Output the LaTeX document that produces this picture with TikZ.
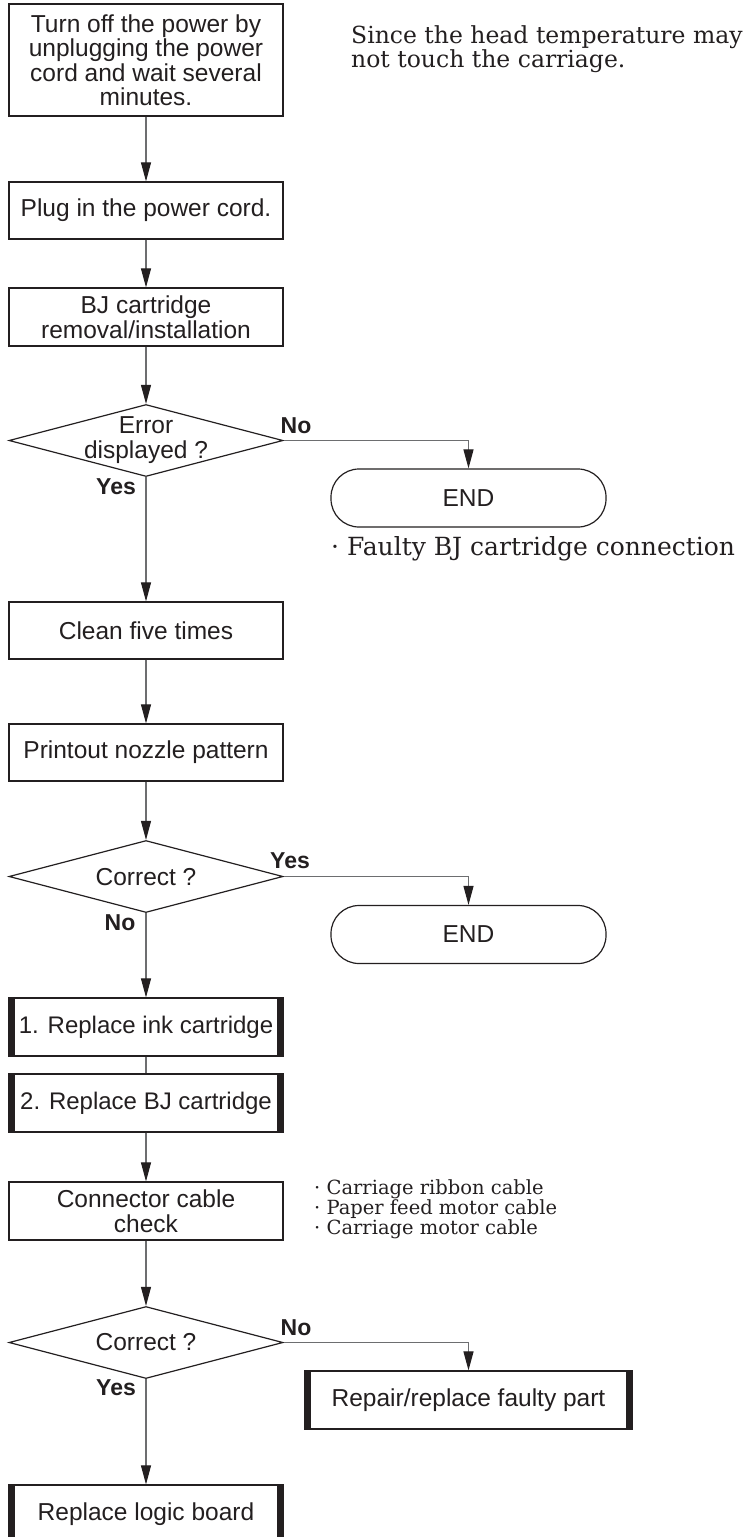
\documentclass[tikz,border=0pt]{standalone}
\usepackage{fontspec}
\setmainfont{DejaVu Serif}
\setsansfont{Liberation Sans}
\usetikzlibrary{arrows.meta,shapes.geometric}
\definecolor{ink}{HTML}{231F20}
\definecolor{wire}{HTML}{6D6E70}
\tikzset{
  base/.style={draw=ink, line width=1.2pt, text=ink, align=center, inner sep=0pt,
    font=\sffamily\fontsize{24.5}{24.5}\selectfont},
  procbox/.style={base, rectangle, minimum width=274pt, minimum height=57pt},
  barbox/.style={procbox, font=\sffamily\fontsize{24}{24}\selectfont, path picture={
      \fill[ink] (path picture bounding box.north west) rectangle ([xshift=6pt]path picture bounding box.south west);
      \fill[ink] (path picture bounding box.north east) rectangle ([xshift=-6pt]path picture bounding box.south east);}},
  decision/.style={base, diamond, minimum width=274pt, minimum height=72pt},
  dlabel/.style={text=ink, align=center, inner sep=0pt, font=\sffamily\fontsize{24.5}{25}\selectfont},
  terminal/.style={base, rectangle, rounded corners=28pt, minimum width=275pt, minimum height=58pt},
  flow/.style={draw=wire, line width=1.1pt, -{Triangle[length=19pt,width=10pt,color=ink]}},
  plain/.style={draw=wire, line width=1.1pt},
  yn/.style={text=ink, inner sep=0pt, font=\sffamily\bfseries\fontsize{23}{23}\selectfont},
  note/.style={text=ink, anchor=west, align=left, inner sep=0pt},
}
\begin{document}
\begin{tikzpicture}[x=1pt,y=-1pt]
\useasboundingbox (0,0) rectangle (748,1537);
\clip (0,0) rectangle (748,1537);
\fill[white] (0,0) rectangle (748,1537);

% nodes
\node[procbox, minimum height=112pt] (b1) at (146,60) {Turn off the power by\\unplugging the power\\cord and wait several\\minutes.};
\node[note, font=\fontsize{23.5}{22}\selectfont] (warn) at (351,49) {Since the head temperature may\\not touch the carriage.};
\node[procbox] (b2) at (146,210.5) {Plug in the power cord.};
\node[procbox, minimum height=58pt] (b3) at (146,317) {BJ cartridge\\removal/installation};
\node[decision] (d1) at (146,440.5) {};
\node[dlabel] (d1t) at (146,440) {Error\\displayed ?};
\node[yn] (d1no) at (296,426) {No};
\node[yn] (d1yes) at (116,487) {Yes};
\node[terminal] (end1) at (468.5,498) {END};
\node[note, font=\fontsize{25}{25}\selectfont] (faulty) at (331,549) {· Faulty BJ cartridge connection};
\node[procbox] (clean) at (146,630.5) {Clean five times};
\node[procbox] (print) at (146,752.5) {Printout nozzle pattern};
\node[decision] (d2) at (146,876.5) {};
\node[dlabel] (d2t) at (146,877) {Correct ?};
\node[yn] (d2yes) at (290,861) {Yes};
\node[yn] (d2no) at (120,923) {No};
\node[terminal] (end2) at (468.5,934.5) {END};
\node[barbox, minimum height=58pt] (ink) at (146,1027) {1. Replace ink cartridge};
\node[barbox, minimum height=58pt] (bj) at (146,1103) {2. Replace BJ cartridge};
\node[procbox, minimum height=58pt] (conn) at (146,1211) {Connector cable\\check};
\node[note, font=\fontsize{19.5}{20}\selectfont] (cables) at (314,1209) {· Carriage ribbon cable\\· Paper feed motor cable\\· Carriage motor cable};
\node[decision] (d3) at (146,1342.5) {};
\node[dlabel] (d3t) at (146,1342.5) {Correct ?};
\node[yn] (d3no) at (296,1328) {No};
\node[yn] (d3yes) at (116,1388) {Yes};
\node[barbox, font=\sffamily\fontsize{24.5}{24.5}\selectfont, minimum width=327pt, minimum height=58pt] (repair) at (468.5,1400) {Repair/replace faulty part};
\node[barbox, font=\sffamily\fontsize{24.5}{24.5}\selectfont, minimum height=58pt] (logic) at (146,1514) {Replace logic board};

% connectors
\draw[flow] (b1.south) -- (b2.north);
\draw[flow] (b2.south) -- (b3.north);
\draw[flow] (b3.south) -- (d1.north);
\draw[flow] (d1.east) -| (end1.north);
\draw[flow] (d1.south) -- (clean.north);
\draw[flow] (clean.south) -- (print.north);
\draw[flow] (print.south) -- (d2.north);
\draw[flow] (d2.east) -| (end2.north);
\draw[flow] (d2.south) -- (ink.north);
\draw[plain] (ink.south) -- (bj.north);
\draw[flow] (bj.south) -- (conn.north);
\draw[flow] (conn.south) -- (d3.north);
\draw[flow] (d3.east) -| (repair.north);
\draw[flow] (d3.south) -- (logic.north);
\end{tikzpicture}
\end{document}
